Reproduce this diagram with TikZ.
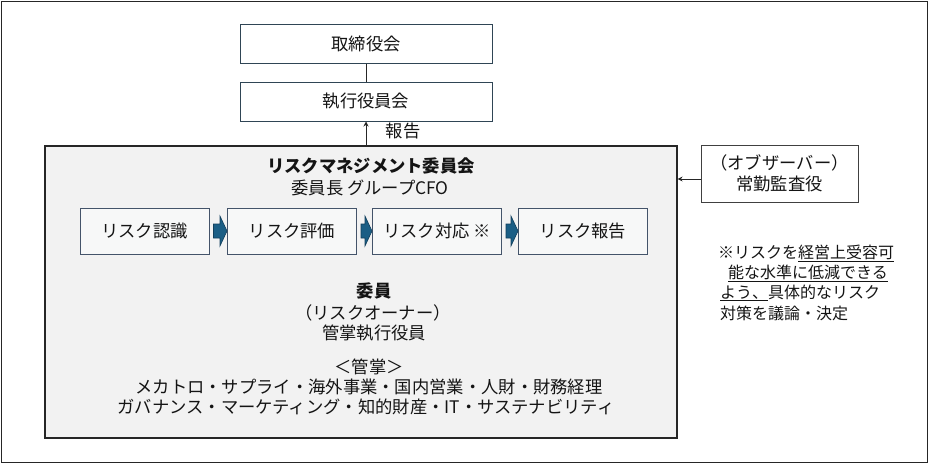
\documentclass[tikz,border=0pt]{standalone}
\usepackage{fontspec}
\setmainfont{Noto Sans CJK JP}
\usetikzlibrary{calc,arrows.meta}
\definecolor{txt}{HTML}{141414}
\definecolor{topborder}{HTML}{2F4555}
\definecolor{procborder}{HTML}{44546A}
\definecolor{bigfill}{HTML}{F2F2F2}
\definecolor{procfill}{HTML}{F7F8F8}
\definecolor{arrfill}{HTML}{1B5E85}
\definecolor{arrline}{HTML}{123F5C}
\begin{document}
\begin{tikzpicture}[x=1pt,y=-1pt,
  every node/.style={text=txt, font=\fontsize{17.3}{20}\selectfont, inner sep=0pt},
  topbox/.style={draw=topborder, line width=1pt, fill=white, minimum width=252pt, minimum height=39pt},
  procbox/.style={draw=procborder, line width=1pt, fill=procfill, minimum width=129pt, minimum height=46pt},
  obsbox/.style={draw=black!75, line width=1pt, fill=white, minimum width=157pt, minimum height=57pt, align=center},
  bigbox/.style={draw=black!85, line width=1.2pt, fill=bigfill, minimum width=632pt, minimum height=292pt},
  plainline/.style={draw=black!85, line width=1pt},
  arr/.style={draw=black!85, line width=1pt, -{Stealth[length=5pt,width=5pt]}},
  procarr/.style={fill=arrfill, draw=arrline, line width=0.6pt},
  notetext/.style={anchor=west, font=\fontsize{16}{20}\selectfont}
]
\useasboundingbox (0,0) rectangle (929,464);
\draw[black!85, line width=1.5pt] (1.5,1.5) rectangle (927.5,462.5);

% top boxes
\node[topbox] (board) at (366,43.5) {取締役会};
\node[topbox] (exec) at (366,101.5) {執行役員会};
\draw[plainline] (board.south) -- (exec.north);

% big committee box
\node[bigbox] (rmc) at (361,292) {};
\draw[arr] (rmc.north -| exec.south) -- (exec.south);
\node (rep) at (403,131) {報告};

\node[font=\fontsize{17.3}{20}\selectfont\bfseries] (title) at (371,166) {リスクマネジメント委員会};
\node (chair) at (370,188) {委員長 グループCFO};

% process boxes
\node[procbox] (p1) at (144.5,231) {リスク認識};
\node[procbox] (p2) at (292,231) {リスク評価};
\node[procbox] (p3) at (437,231) {リスク対応 ※};
\node[procbox] (p4) at (583,231) {リスク報告};

\foreach \a/\b in {p1/p2,p2/p3,p3/p4}{
  \path[procarr] ($(\a.east)+(4,-7)$) -- ($(\b.west)+(-7,-7)$) -- ($(\b.west)+(-7,-15)$)
     -- (\b.west) -- ($(\b.west)+(-7,15)$) -- ($(\b.west)+(-7,7)$) -- ($(\a.east)+(4,7)$) -- cycle;
}

% members
\node[font=\fontsize{17.3}{20}\selectfont\bfseries] (mem) at (374,291) {委員};
\node (owner) at (373,313) {（リスクオーナー）};
\node (officer) at (374,333) {管掌執行役員};
\node (kansho) at (369,367) {＜管掌＞};
\node (line1) at (369,387) {メカトロ・サプライ・海外事業・国内営業・人財・財務経理};
\node (line2) at (366,407) {ガバナンス・マーケティング・知的財産・IT・サステナビリティ};

% observer
\node[obsbox] (obs) at (779.5,173.5) {（オブザーバー）\\[1pt]常勤監査役};
\draw[arr] ([yshift=-5.5pt]obs.west) -- ([yshift=-5.5pt]obs.west -| rmc.east);

% note
\node[notetext] (n1) at (718,253) {※リスクを\underline{経営上受容可}};
\node[notetext] (n2) at (728,273) {\underline{能な水準に低減できる}};
\node[notetext] (n3) at (720,293) {\underline{よう、}具体的なリスク};
\node[notetext] (n4) at (720,313) {対策を議論・決定};
\end{tikzpicture}
\end{document}
